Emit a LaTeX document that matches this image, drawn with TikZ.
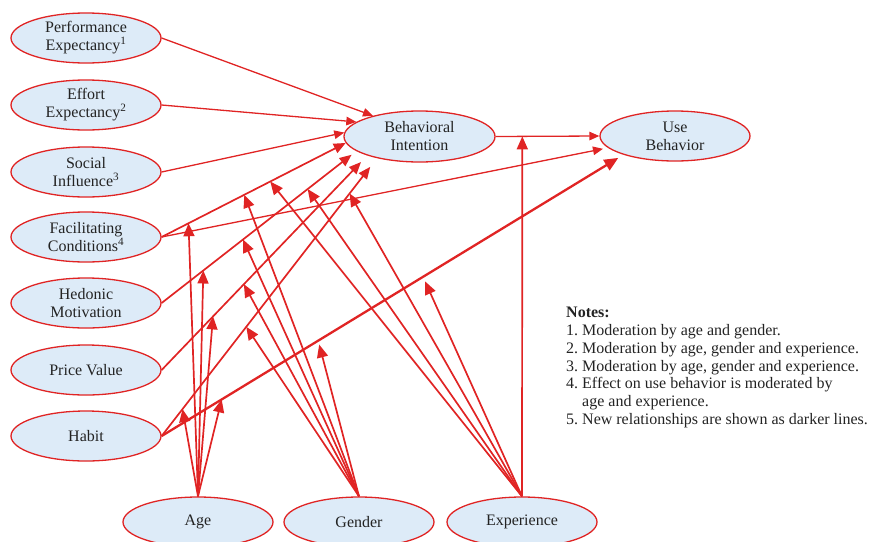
\documentclass[tikz,border=0pt]{standalone}
\usepackage{fontspec}
\setmainfont{Liberation Serif}
\usetikzlibrary{shapes.geometric,arrows.meta}
\definecolor{pathred}{RGB}{224,36,36}
\definecolor{bubble}{RGB}{221,235,248}
\definecolor{ink}{RGB}{35,35,35}
\begin{document}
\begin{tikzpicture}[x=1pt,y=-1pt,
  construct/.style={ellipse, draw=pathred, line width=1.3pt, fill=bubble,
    minimum width=150pt, minimum height=50pt, inner sep=0pt, align=center,
    text=ink, font=\fontsize{16}{18}\selectfont},
  effect/.style={draw=pathred, line width=1.3pt, -{Triangle[length=10pt,width=8.5pt]}},
  neweffect/.style={draw=pathred, line width=1.7pt, -{Triangle[length=12pt,width=10pt]}},
  strongeffect/.style={draw=pathred, line width=2.3pt, -{Triangle[length=14pt,width=12pt]}},
  moderator/.style={draw=pathred, line width=1.7pt, -{Triangle[length=13pt,width=11pt]}},
]
\useasboundingbox (0,0) rectangle (869,541);

% constructs
\node[construct] (pe) at (86,38)  {Performance\\Expectancy\textsuperscript{1}};
\node[construct] (ee) at (86,105) {Effort\\Expectancy\textsuperscript{2}};
\node[construct] (si) at (86,172) {Social\\Influence\textsuperscript{3}};
\node[construct] (fc) at (86,237) {Facilitating\\Conditions\textsuperscript{4}};
\node[construct] (hm) at (86,303) {Hedonic\\Motivation};
\node[construct] (pv) at (86,370) {Price Value};
\node[construct] (hb) at (86,436) {Habit};

\node[construct, minimum width=151pt, minimum height=51pt] (bi) at (419.5,136.5) {Behavioral\\Intention};
\node[construct] (ub) at (675,136) {Use\\Behavior};

\node[construct] (age) at (198,522) {Age};
\node[construct] (gender) at (359,522) {Gender};
\node[construct] (exp) at (522,522) {Experience};

% direct effects
\draw[effect] (pe.east) -- (bi.156);
\draw[effect] (ee.east) -- (bi.167);
\draw[effect] (si.east) -- (bi.177);
\draw[neweffect] (fc.east) -- coordinate[pos=0.146] (fcA) coordinate[pos=0.449] (fcG)
  coordinate[pos=0.59] (fcE) (bi.185);
\draw[effect, shorten >=5pt] (fc.east) -- (ub.190);
\draw[neweffect, shorten >=6pt] (hm.east) -- coordinate[pos=0.214] (hmA)
  coordinate[pos=0.418] (hmG) coordinate[pos=0.75] (hmE) (bi.193);
\draw[neweffect, shorten >=9pt] (pv.east) -- coordinate[pos=0.25] (pvA)
  coordinate[pos=0.4] (pvG) (bi.200);
\draw[neweffect, shorten >=11pt] (hb.east) -- coordinate[pos=0.097] (hbA)
  coordinate[pos=0.393] (hbG) coordinate[pos=0.873] (hbE) (bi.207);
\draw[strongeffect, shorten >=6pt] (hb.east) -- coordinate[pos=0.13] (huA)
  coordinate[pos=0.339] (huG) coordinate[pos=0.566] (huE) (ub.200);
\draw[effect] (bi.east) -- coordinate[pos=0.257] (buE) (ub.west);

% moderating effects
\foreach \t in {fcA,hmA,pvA,hbA,huA}
  \draw[moderator] (age.north) -- (\t);
\foreach \t in {fcG,hmG,pvG,hbG}
  \draw[moderator] (gender.north) -- (\t);
\draw[moderator, shorten >=4pt] (gender.north) -- (huG);
\foreach \t in {fcE,hmE,hbE,buE}
  \draw[moderator] (exp.north) -- (\t);
\draw[moderator, shorten >=5pt] (exp.north) -- (huE);

% notes
\node[anchor=north west, inner sep=0pt, text=ink,
  font=\fontsize{16}{17.8}\selectfont] (notes) at (566,305)
  {\begin{tabular}{@{}l@{\ }l@{}}
   \multicolumn{2}{@{}l@{}}{\textbf{Notes:}}\\
   1. & Moderation by age and gender.\\
   2. & Moderation by age, gender and experience.\\
   3. & Moderation by age, gender and experience.\\
   4. & Effect on use behavior is moderated by\\
      & age and experience.\\
   5. & New relationships are shown as darker lines.
   \end{tabular}};
\end{tikzpicture}
\end{document}
